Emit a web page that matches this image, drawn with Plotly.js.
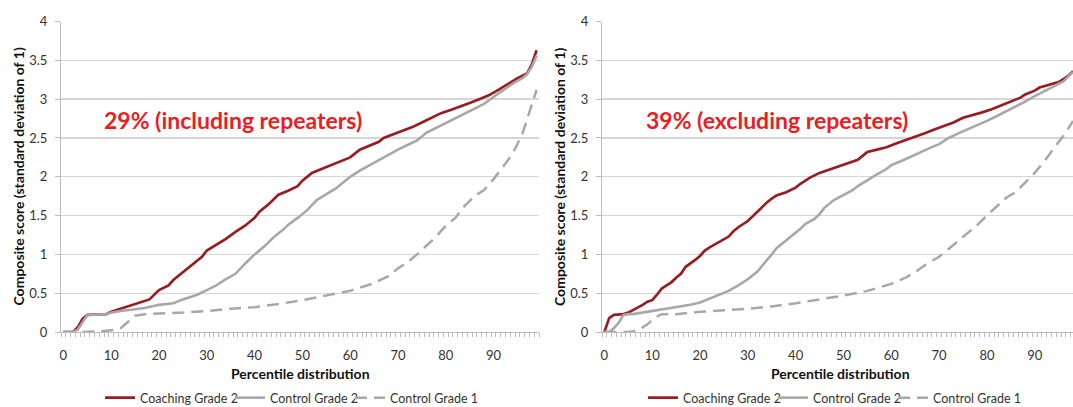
<!DOCTYPE html>
<html>
<head>
<meta charset="utf-8">
<script src="https://cdn.plot.ly/plotly-3.0.1.min.js"></script>
<style>
html,body{margin:0;padding:0;background:#fff;overflow:hidden;width:1073px;height:407px;}
#chart{width:1073px;height:413px;}
</style>
</head>
<body>
<div id="chart"></div>
<script>
// ---------- Data ----------
var seriesNames = ["Coaching Grade 2", "Control Grade 2", "Control Grade 1"];
var panelLabels = ["29% (including repeaters)", "39% (excluding repeaters)"];
var xTickVals = [0, 10, 20, 30, 40, 50, 60, 70, 80, 90];
var xTitle = "Percentile distribution";
var yTitle = "Composite score (standard deviation of 1)";

// Left panel (including repeaters)
var leftCoachP = [0,2,3,4,5,9,10,12,15,17,18,20,22,23,25,27,29,30,32,34,36,38,40,41,43,45,47,49,50,52,54,56,58,60,62,64,66,67,70,71,73,75,77,79,81,83,85,87,89,91,93,95,97,98,99];
var leftCoachV = [0,0,0.06,0.17,0.22,0.23,0.26,0.3,0.35,0.4,0.42,0.54,0.6,0.67,0.77,0.87,0.97,1.05,1.12,1.2,1.29,1.37,1.47,1.55,1.65,1.77,1.82,1.88,1.95,2.05,2.1,2.15,2.2,2.25,2.35,2.4,2.45,2.5,2.57,2.6,2.64,2.7,2.76,2.82,2.86,2.9,2.95,3.0,3.05,3.12,3.2,3.27,3.33,3.45,3.63];

var leftCtrl2P = [0,2,3,4,5,9,10,12,15,17,20,23,25,28,30,32,34,36,38,40,42,44,46,47,49,51,53,55,57,58,60,62,64,66,68,70,72,74,76,78,80,82,84,86,88,90,92,94,96,97,98,99];
var leftCtrl2V = [0,0,0.03,0.13,0.22,0.23,0.25,0.27,0.29,0.31,0.35,0.37,0.42,0.48,0.54,0.6,0.68,0.75,0.88,1.0,1.1,1.22,1.32,1.38,1.47,1.57,1.7,1.77,1.85,1.9,2.0,2.08,2.15,2.22,2.28,2.35,2.41,2.47,2.57,2.63,2.7,2.76,2.81,2.88,2.94,3.03,3.12,3.2,3.27,3.32,3.42,3.56];

var leftCtrl1P = [0,4,8,10,11,12,13,14,15,17,20,25,30,35,40,45,50,55,60,65,68,70,72,74,76,78,80,82,84,86,88,90,92,94,96,97,98,99];
var leftCtrl1V = [0,0,0.01,0.02,0.03,0.05,0.1,0.16,0.21,0.23,0.235,0.25,0.27,0.3,0.32,0.36,0.41,0.47,0.53,0.63,0.72,0.82,0.9,1.0,1.12,1.23,1.37,1.47,1.63,1.75,1.83,1.97,2.13,2.3,2.55,2.75,2.95,3.12];

// Right panel (excluding repeaters)
var rightCoachP = [0,1,2,4,5,6,7,8,9,10,11,12,13,14,15,16,17,18,19,20,21,22,24,26,27,28,30,31,32,33,34,35,36,38,40,41,42,43,45,47,49,51,53,54,55,57,59,61,63,65,67,69,71,73,75,77,79,81,83,85,87,88,90,91,93,95,96,97,98];
var rightCoachV = [0,0.18,0.22,0.23,0.25,0.28,0.31,0.35,0.39,0.41,0.48,0.56,0.6,0.64,0.7,0.75,0.84,0.88,0.93,0.98,1.05,1.09,1.16,1.23,1.3,1.35,1.43,1.49,1.56,1.61,1.67,1.72,1.76,1.8,1.86,1.91,1.95,1.99,2.05,2.09,2.13,2.18,2.22,2.27,2.32,2.35,2.38,2.43,2.47,2.52,2.56,2.61,2.65,2.7,2.76,2.79,2.83,2.87,2.92,2.97,3.02,3.06,3.11,3.15,3.19,3.22,3.26,3.3,3.36];

var rightCtrl2P = [0,1,2,3,4,5,6,7,10,13,15,18,20,22,24,26,28,30,32,33,34,35,36,38,40,41,42,44,45,46,48,50,52,53,55,57,59,60,62,64,66,68,70,72,74,76,78,80,82,84,86,88,90,92,94,96,97,98];
var rightCtrl2V = [0,0,0.05,0.12,0.22,0.23,0.23,0.24,0.27,0.3,0.32,0.35,0.38,0.43,0.47,0.53,0.6,0.68,0.78,0.85,0.93,1.0,1.08,1.18,1.27,1.33,1.39,1.46,1.52,1.6,1.7,1.77,1.83,1.88,1.96,2.03,2.1,2.15,2.2,2.26,2.32,2.37,2.42,2.5,2.56,2.61,2.67,2.72,2.78,2.84,2.9,2.97,3.04,3.1,3.16,3.23,3.29,3.35];

var rightCtrl1P = [0,5,7,9,11,12,15,20,25,30,35,40,45,50,55,60,63,65,67,70,72,74,76,78,80,82,84,86,88,90,92,94,96,97,98];
var rightCtrl1V = [0,0,0.02,0.1,0.2,0.23,0.23,0.26,0.28,0.3,0.33,0.37,0.42,0.47,0.53,0.62,0.7,0.77,0.86,0.97,1.07,1.17,1.28,1.38,1.5,1.62,1.73,1.8,1.93,2.05,2.2,2.36,2.53,2.62,2.72];

// ---------- Styling ----------
var W = 1073, H = 413;   // paper slightly taller than the 407px window: legend sits on the cropped bottom edge like the reference
var FONT = "Lato, 'Open Sans', 'DejaVu Sans', sans-serif";
var RED = "#981d22", GRAY = "#a8a8a8", TXT = "#333333";
var lineStyles = [
  {color: RED, width: 2.7},
  {color: GRAY, width: 2.6},
  {color: GRAY, width: 2.5, dash: "12px,7px"}
];
var legendWidths = [85, 75, 90];
function px(x){ return x / W; }
function py(y){ return (H - y) / H; }

var panels = [
  {xa: "x", ya: "y", lg: "legend", data: [[leftCoachP, leftCoachV], [leftCtrl2P, leftCtrl2V], [leftCtrl1P, leftCtrl1V]]},
  {xa: "x2", ya: "y2", lg: "legend2", data: [[rightCoachP, rightCoachV], [rightCtrl2P, rightCtrl2V], [rightCtrl1P, rightCtrl1V]]}
];

var traces = [];
panels.forEach(function(p){
  p.data.forEach(function(d, i){
    traces.push({
      type: "scatter", mode: "lines",
      x: d[0], y: d[1],
      name: seriesNames[i],
      xaxis: p.xa, yaxis: p.ya, legend: p.lg,
      legendwidth: legendWidths[i],
      line: lineStyles[i],
      hoverinfo: "skip"
    });
  });
});

function xAxis(domain, range, anchor){
  return {
    domain: domain, range: range, anchor: anchor,
    tickvals: xTickVals, ticktext: xTickVals.map(String),
    ticks: "outside", ticklen: 11, tickcolor: "rgba(0,0,0,0)",
    minor: {tick0: -0.5, dtick: 1, ticks: "outside", ticklen: 4, tickcolor: "#bdbdbd", tickwidth: 1, showgrid: false},
    showline: true, linecolor: "#bdbdbd", linewidth: 1,
    showgrid: false, zeroline: false,
    tickfont: {family: FONT, size: 13, color: TXT},
    fixedrange: true
  };
}
function yAxis(anchor){
  return {
    domain: [py(332), py(21.5)], range: [0, 4.001], anchor: anchor,
    dtick: 0.5, tick0: 0,
    ticks: "outside", ticklen: 5, tickcolor: "#bdbdbd",
    ticklabelstandoff: 5,
    showline: true, linecolor: "#bdbdbd", linewidth: 1,
    showgrid: true, gridcolor: "#d6d6d6", gridwidth: 1.4,
    zeroline: false,
    tickfont: {family: FONT, size: 13, color: TXT},
    fixedrange: true
  };
}

var annFont = {family: FONT, size: 14, color: "#111111", weight: "bold"};
var bigFont = {family: FONT, size: 23, color: "#ec1c24", weight: "bold"};

function legendBox(xpx){
  return {
    orientation: "h", x: px(xpx), xanchor: "left", y: 0, yanchor: "bottom",
    font: {family: FONT, size: 12.5, color: TXT},
    bgcolor: "rgba(0,0,0,0)", itemwidth: 30, tracegroupgap: 0
  };
}

var layout = {
  width: W, height: H,
  margin: {l: 0, r: 0, t: 0, b: 0},
  paper_bgcolor: "#ffffff", plot_bgcolor: "#ffffff",
  showlegend: true,
  xaxis: xAxis([px(61), px(539)], [-0.5, 99.5], "y"),
  yaxis: yAxis("x"),
  xaxis2: xAxis([px(602), 1], [-0.5, 98.0], "y2"),
  yaxis2: yAxis("x2"),
  legend: legendBox(100),
  legend2: legendBox(643),
  annotations: [
    {text: yTitle, xref: "paper", yref: "paper", x: px(17.5), y: py(177), textangle: -90, showarrow: false, xanchor: "center", yanchor: "middle", font: annFont},
    {text: yTitle, xref: "paper", yref: "paper", x: px(559), y: py(177), textangle: -90, showarrow: false, xanchor: "center", yanchor: "middle", font: annFont},
    {text: xTitle, xref: "paper", yref: "paper", x: px(300), y: py(373), showarrow: false, xanchor: "center", yanchor: "middle", font: annFont},
    {text: xTitle, xref: "paper", yref: "paper", x: px(840), y: py(373), showarrow: false, xanchor: "center", yanchor: "middle", font: annFont},
    {text: panelLabels[0], xref: "paper", yref: "paper", x: px(233), y: py(120), showarrow: false, xanchor: "center", yanchor: "middle", font: bigFont},
    {text: panelLabels[1], xref: "paper", yref: "paper", x: px(777), y: py(120), showarrow: false, xanchor: "center", yanchor: "middle", font: bigFont}
  ]
};

Plotly.newPlot("chart", traces, layout, {staticPlot: true, displayModeBar: false});
</script>
</body>
</html>
